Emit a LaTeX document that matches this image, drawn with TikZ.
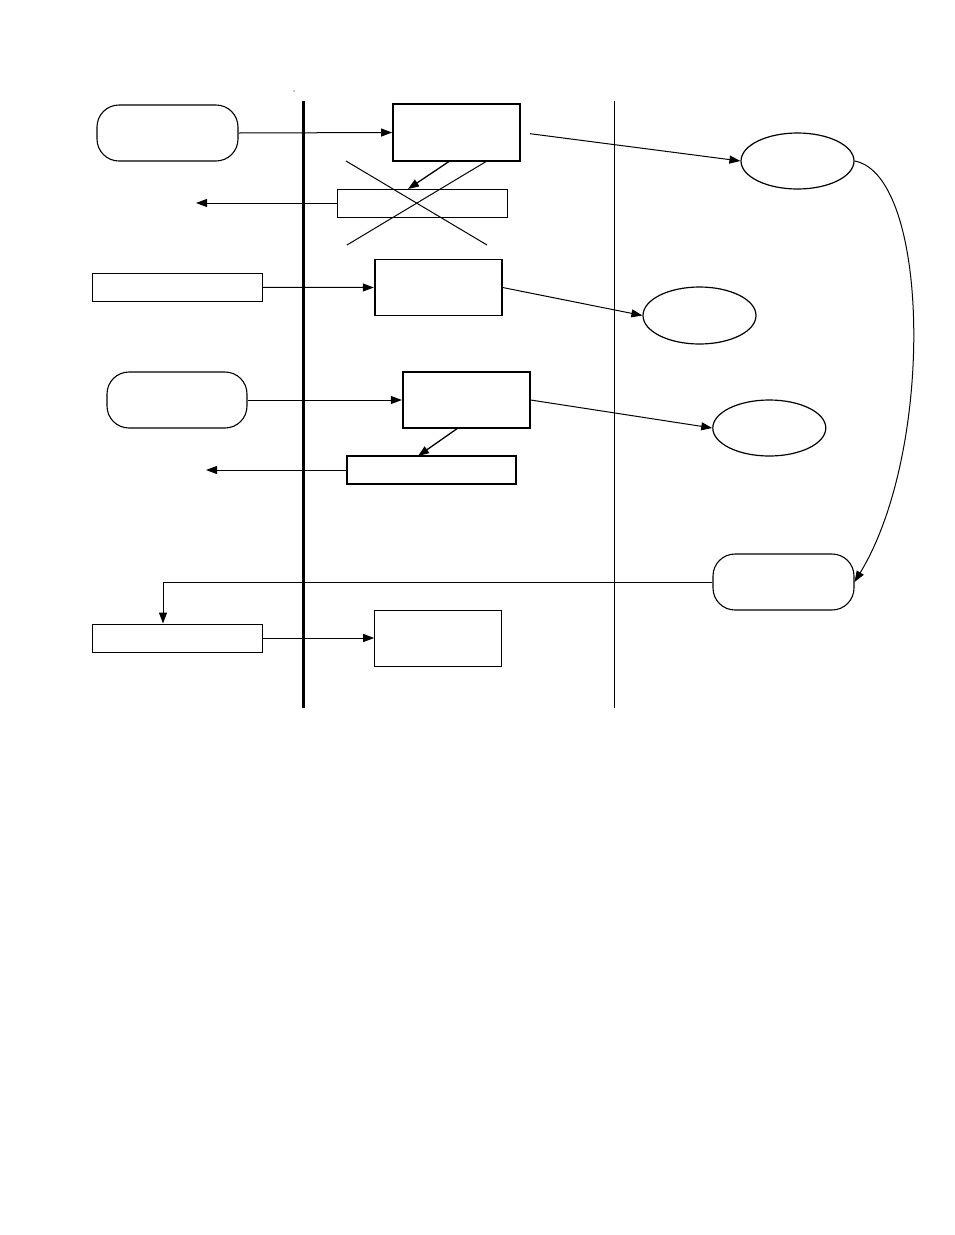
\documentclass[tikz,border=0pt]{standalone}
\usetikzlibrary{arrows.meta,shapes.geometric}
\begin{document}
\begin{tikzpicture}[x=1pt,y=-1pt,
  thinbox/.style={draw,line width=1pt,rectangle,inner sep=0pt},
  thickbox/.style={draw,line width=1.8pt,rectangle,inner sep=0pt},
  pill/.style={draw,line width=1.1pt,rectangle,rounded corners=22pt,inner sep=0pt},
  oval/.style={draw,line width=1.2pt,ellipse,inner sep=0pt},
  conn/.style={line width=1pt,-{Triangle[length=11pt,width=8pt]}},
  plainline/.style={line width=1pt},
  lane/.style={line width=1pt}]
\useasboundingbox (0,0) rectangle (954,1235);
% swimlane dividers
\coordinate (l1t) at (303.5,101);
\coordinate (l1b) at (303.5,708);
\coordinate (l2t) at (614,101);
\coordinate (l2b) at (614,708);
\draw[lane,line width=2.4pt] (l1t) -- (l1b);
\draw[lane] (l2t) -- (l2b);
\fill (294,91) circle (0.6);
% row 1
\node[pill,minimum width=141pt,minimum height=56pt] (A) at (167.5,133) {};
\node[thickbox,minimum width=127pt,minimum height=57pt] (B) at (456.5,132.5) {};
\node[thinbox,minimum width=170pt,minimum height=28pt] (C) at (422,203) {};
\node[oval,minimum width=113pt,minimum height=56pt] (E1) at (797.5,161) {};
\coordinate (Cout) at (196,203);
\draw[conn] (A.east) -- (B.west);
\draw[conn,line width=1.3pt] (449,161.5) -- (408,189);
\draw[conn] (C.west) -- (Cout);
\draw[conn,shorten <=9pt] (B.east) -- (E1.west);
\draw[plainline] (346,161) -- (487,245);
\draw[plainline] (487,161) -- (347,245);
% row 2
\node[thinbox,minimum width=170pt,minimum height=28pt] (D) at (177.3,287.3) {};
\node[thickbox,minimum width=127pt,minimum height=56pt] (F) at (438.2,287.5) {};
\node[oval,minimum width=113pt,minimum height=57pt] (E2) at (699.5,315.5) {};
\draw[conn] (D.east) -- (F.west);
\draw[conn] (F.east) -- (E2.west);
% row 3
\node[pill,minimum width=140pt,minimum height=56pt] (G) at (177,400) {};
\node[thickbox,minimum width=127pt,minimum height=56pt] (H) at (466.3,400) {};
\node[thickbox,minimum width=169pt,minimum height=28pt] (I) at (431.3,470) {};
\node[oval,minimum width=113pt,minimum height=56pt] (E3) at (769.3,428) {};
\coordinate (Iout) at (206,470);
\draw[conn] (G.east) -- (H.west);
\draw[conn,line width=1.3pt] (458,428) -- (418,456);
\draw[conn] (I.west) -- (Iout);
\draw[conn] (H.east) -- (E3.west);
% row 4
\node[pill,minimum width=141pt,minimum height=56pt] (J) at (783.5,582) {};
\node[thinbox,minimum width=170pt,minimum height=28pt] (K) at (177.3,638) {};
\node[thinbox,minimum width=127pt,minimum height=56pt] (L) at (438.2,638) {};
\draw[conn] (E1.east) .. controls (930,175) and (935,450) .. (J.east);
\draw[conn] (J.west) -| (K.north -| 163,0);
\draw[conn] (K.east) -- (L.west);
\end{tikzpicture}
\end{document}
